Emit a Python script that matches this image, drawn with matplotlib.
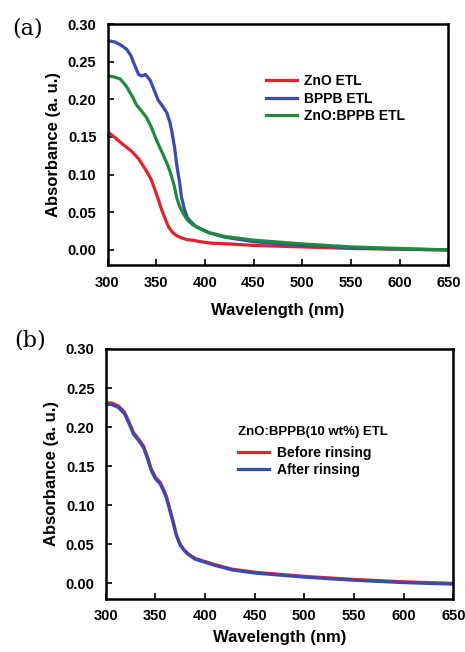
import matplotlib
matplotlib.use("Agg")
import matplotlib.pyplot as plt

plt.rcParams['font.family'] = ['Liberation Sans', 'DejaVu Sans']
plt.rcParams['font.weight'] = 'bold'

# Panel (a) data
wl_zno = [300, 307, 315, 324, 332, 340, 345, 349, 353, 356, 360, 363, 367, 371, 376, 381,
          387, 395, 407, 425, 450, 500, 550, 600, 650]
zno = [0.157, 0.150, 0.141, 0.132, 0.121, 0.105, 0.093, 0.079, 0.064, 0.052, 0.039, 0.030,
       0.023, 0.019, 0.016, 0.014, 0.013, 0.011, 0.009, 0.008, 0.006, 0.004, 0.002, 0.001, 0.000]
wl_bppb = [300, 308, 315, 320, 324, 328, 332, 335, 339, 344, 348, 352, 357, 361, 364, 366,
           369, 371, 374, 376, 379, 382, 386, 390, 396, 404, 420, 450, 500, 550, 600, 650]
bppb = [0.278, 0.276, 0.271, 0.266, 0.258, 0.245, 0.233, 0.231, 0.233, 0.225, 0.212, 0.199,
        0.190, 0.182, 0.170, 0.158, 0.135, 0.114, 0.090, 0.070, 0.054, 0.043, 0.037, 0.032,
        0.028, 0.023, 0.017, 0.011, 0.006, 0.003, 0.001, 0.000]
wl_blend = [300, 306, 313, 319, 325, 330, 334, 340, 345, 349, 353, 357, 361, 364, 368, 371,
            374, 378, 382, 387, 395, 404, 420, 450, 500, 550, 600, 650]
blend = [0.231, 0.230, 0.227, 0.218, 0.205, 0.192, 0.186, 0.176, 0.163, 0.150, 0.138, 0.127,
         0.115, 0.105, 0.088, 0.070, 0.058, 0.048, 0.040, 0.034, 0.028, 0.023, 0.018, 0.013,
         0.008, 0.004, 0.002, 0.000]

# Panel (b) data
wl_b = [300, 306, 313, 319, 324, 328, 333, 338, 342, 346, 350, 355, 358, 361, 364, 368,
        371, 375, 379, 383, 390, 400, 410, 428, 452, 500, 550, 600, 650]
before = [0.231, 0.231, 0.227, 0.219, 0.205, 0.193, 0.185, 0.176, 0.162, 0.146, 0.136, 0.129,
          0.121, 0.112, 0.098, 0.079, 0.063, 0.050, 0.043, 0.038, 0.032, 0.028, 0.024, 0.018,
          0.014, 0.009, 0.005, 0.002, 0.000]
after = [0.229, 0.229, 0.225, 0.217, 0.203, 0.191, 0.183, 0.174, 0.160, 0.144, 0.134, 0.127,
         0.119, 0.110, 0.096, 0.077, 0.062, 0.049, 0.042, 0.037, 0.031, 0.027, 0.023, 0.017,
         0.013, 0.008, 0.004, 0.001, -0.001]

xticks = [300, 350, 400, 450, 500, 550, 600, 650]
yticks = [0.00, 0.05, 0.10, 0.15, 0.20, 0.25, 0.30]

RED = '#e5222b'
BLUE = '#3b4aae'
GREEN = '#1f8a3b'

fig = plt.figure(figsize=(4.65, 6.52), dpi=100)
ax1 = fig.add_axes([107.5/465, 1-265/652, (448.3-107.5)/465, (265-24)/652])
ax2 = fig.add_axes([105.7/465, 1-599/652, (453.3-105.7)/465, (599-349)/652])

def style(ax, xpad, xlabelpad):
    ax.set_xlim(300, 650)
    ax.set_ylim(-0.02, 0.30)
    ax.set_xticks(xticks)
    ax.set_yticks(yticks)
    ax.set_yticklabels([f"{v:.2f}" for v in yticks])
    for s in ax.spines.values():
        s.set_linewidth(1.8)
    ax.tick_params(direction='in', length=4, width=1.2, labelsize=10.5)
    ax.tick_params(axis='x', pad=xpad)
    ax.tick_params(axis='y', pad=8)
    for lab in ax.get_xticklabels() + ax.get_yticklabels():
        lab.set_fontweight('bold')
    ax.set_xlabel('Wavelength (nm)', fontsize=12, fontweight='bold', labelpad=xlabelpad)
    ax.set_ylabel('Absorbance (a. u.)', fontsize=12, fontweight='bold', labelpad=5)

lw = 2.3
ax1.plot(wl_zno, zno, color=RED, lw=lw, label='ZnO ETL')
ax1.plot(wl_bppb, bppb, color=BLUE, lw=lw, label='BPPB ETL')
ax1.plot(wl_blend, blend, color=GREEN, lw=lw, label='ZnO:BPPB ETL')
style(ax1, 8, 9)
ax1.legend(loc='upper left', bbox_to_anchor=(0.45, 0.815), frameon=False,
           prop={'weight': 'bold', 'size': 10}, handlelength=2.2, handletextpad=0.5,
           labelspacing=0.25, borderaxespad=0)

ax2.plot(wl_b, before, color=RED, lw=lw, label='Before rinsing')
ax2.plot(wl_b, after, color=BLUE, lw=lw, label='After rinsing')
style(ax2, 7, 5)
leg = ax2.legend(loc='upper left', bbox_to_anchor=(0.365, 0.715), frameon=False,
                 title='ZnO:BPPB(10 wt%) ETL',
                 prop={'weight': 'bold', 'size': 10}, handlelength=2.2, handletextpad=0.6,
                 labelspacing=0.2, borderaxespad=0)
leg.get_title().set_fontweight('bold')
leg.get_title().set_fontsize(9.5)
leg._legend_box.align = 'left'
leg._legend_box.sep = 6

fig.text(27.5/465, 1-29/652, '(a)', family='DejaVu Serif', fontsize=16,
         fontweight='normal', ha='center', va='center')
fig.text(30/465, 1-341/652, '(b)', family='DejaVu Serif', fontsize=16,
         fontweight='normal', ha='center', va='center')

fig.savefig('out.png', dpi=100)
